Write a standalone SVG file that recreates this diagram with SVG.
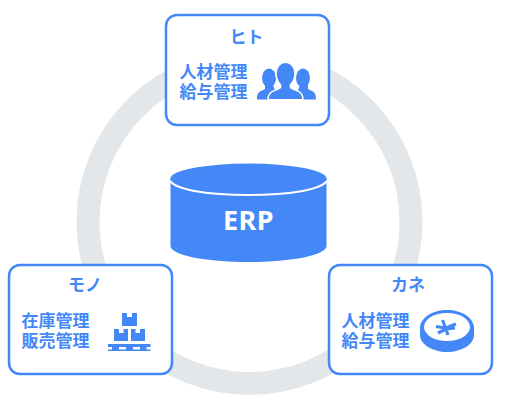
<svg xmlns="http://www.w3.org/2000/svg" width="506" height="404" viewBox="0 0 506 404">
<style>
.card{fill:#fff;stroke:#4488f8;stroke-width:2.5}
.b{fill:#4488f8}
text{font-family:"Noto Sans CJK JP","Noto Sans",sans-serif;font-weight:700;fill:#4488f8}
.t{font-size:17px;text-anchor:middle}
.l{font-size:17px}
</style>
<rect width="506" height="404" fill="#fff"/>
<g id="connectors"><circle cx="249.500" cy="222" r="161.500" fill="none" stroke="#e4e7ea" stroke-width="23"/></g>
<g id="erp">
<path class="b" d="M170.500 178V246C170.500 255 205 262 248.500 262S326.500 255 326.500 246V178Z"/>
<ellipse class="b" cx="248.500" cy="178.500" rx="78" ry="15"/>
<path d="M170.500 181C175 189.500 208 195 248.500 195S322 189.500 326.500 181" fill="none" stroke="#fff" stroke-width="2"/>
<text x="248.500" y="230" text-anchor="middle" style="fill:#fff;font-family:'Noto Sans',sans-serif;font-size:27px;letter-spacing:.5px">ERP</text>
</g>
<g id="hito">
<rect class="card" x="166" y="15" width="163" height="110" rx="11"/>
<text class="t" x="246.500" y="43">ヒト</text>
<text class="l" x="179.500" y="78">人材管理<tspan x="179.500" dy="20">給与管理</tspan></text>
<g class="b">
<ellipse cx="269" cy="78" rx="7" ry="9.500"/>
<path d="M257 99.500c0-5 1-7 4-8.500l4-2v-4h8l3 8-6 6.500z"/>
<ellipse cx="303" cy="78" rx="7" ry="9.500"/>
<path d="M316 99.500c0-5-1-7-4-8.500l-4-2v-4h-8l-3 8 6 6.500z"/>
<path stroke="#fff" stroke-width="1.500" d="M285.500 62.200c5.500 0 9.500 5 9.500 11 0 5-2 9-4.500 11.500v3c3 2 5 2.500 7.500 3.500 3 1.500 5 4 5 8.500h-35c0-4.500 2-7 5-8.500 2.500-1 4.500-1.500 7.500-3.500v-3c-2.500-2.500-4.500-6.500-4.500-11.500 0-6 4-11 9.500-11z"/>
</g>
</g>
<g id="mono">
<rect class="card" x="9" y="265" width="163" height="109" rx="11"/>
<text class="t" x="85" y="291">モノ</text>
<text class="l" x="21.500" y="327">在庫管理<tspan x="21.500" dy="20">販売管理</tspan></text>
<g class="b">
<path d="M122 313h5v4h5v-4h5v13h-15z"/>
<path d="M114 329h5v4h4.500v-4h4.500v12h-14z"/>
<path d="M131 329h4.500v4h4.500v-4h5v12h-14z"/>
<path fill-rule="evenodd" d="M108 344h42.500v7h-42.500zM119 347v2.500h7v-2.500zM133 347v2.500h7v-2.500zM108 347v2.500h4v-2.500zM146.500 347v2.500h4v-2.500z"/>
</g>
</g>
<g id="kane">
<rect class="card" x="329" y="265" width="163" height="109" rx="11"/>
<text class="t" x="408" y="291">カネ</text>
<text class="l" x="341.500" y="327">人材管理<tspan x="341.500" dy="20">給与管理</tspan></text>
<g>
<path class="b" d="M420 328c0-10 12-18 27-18s27 8 27 18v7c0 9-12 17-27 17s-27-8-27-17z"/>
<ellipse cx="447" cy="327" rx="23" ry="14" fill="#fff"/>
<path d="M442.500 320l3 8M445.500 328l2.500 7M436 326.500l9.500 1.500 10.500-4M438 333l8-4 9-1" fill="none" stroke="#4488f8" stroke-width="3.200"/>
</g>
</g>
</svg>
